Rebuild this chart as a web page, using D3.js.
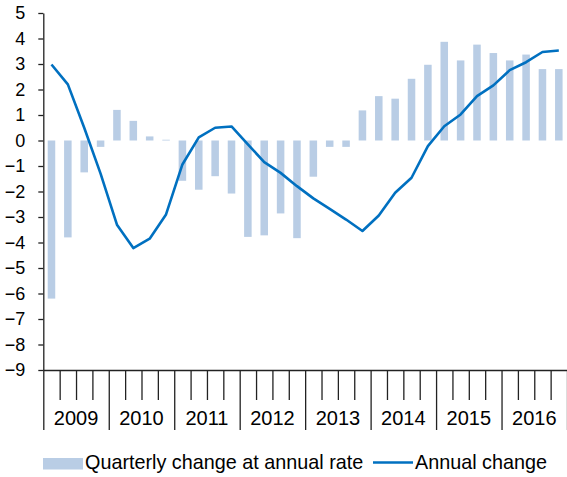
<!DOCTYPE html>
<html>
<head>
<meta charset="utf-8">
<script src="https://cdn.jsdelivr.net/npm/d3@7"></script>
<style>
  body { margin: 0; background: #fff; }
  svg { display: block; font-family: "Liberation Sans", Arial, sans-serif; }
</style>
</head>
<body>
<script>
// quarters 2009Q1 .. 2016Q4
var years = ["2009", "2010", "2011", "2012", "2013", "2014", "2015", "2016"];
var quarters = [];
years.forEach(function(y) { [1, 2, 3, 4].forEach(function(q) { quarters.push(y + "Q" + q); }); });

// quarterly change at annual rate (bars)
var quarterlyChange = [
  -6.2, -3.8, -1.25, -0.25,
   1.2,  0.77, 0.16, 0.03,
  -1.58, -1.93, -1.4, -2.08,
  -3.78, -3.72, -2.86, -3.83,
  -1.42, -0.25, -0.25, 1.18,
   1.74,  1.64, 2.42, 2.97,
   3.87,  3.14, 3.76, 3.43,
   3.14,  3.37, 2.8, 2.8
];

// annual change (line)
var annualChange = [
   2.98, 2.2, 0.5, -1.3,
  -3.3, -4.22, -3.85, -2.9,
  -0.94, 0.12, 0.5, 0.55,
  -0.15, -0.85, -1.27, -1.79,
  -2.27, -2.68, -3.1, -3.55,
  -2.94, -2.05, -1.46, -0.22,
   0.56, 1.02, 1.74, 2.16,
   2.76, 3.07, 3.47, 3.53
];

var yTicks = d3.range(-9, 6);

var width = 567, height = 477;
var plotLeft = 43.3, plotRight = 567, plotTop = 13, plotBottom = 370;

var svg = d3.select("body").append("svg")
    .attr("width", width)
    .attr("height", height);

var x = d3.scaleBand()
    .domain(quarters)
    .range([plotLeft, plotRight])
    .paddingInner(0.54)
    .paddingOuter(0.27);

var xq = d3.scaleLinear().domain([0, quarters.length]).range([plotLeft, plotRight]);

var xYear = d3.scaleBand().domain(years).range([plotLeft, plotRight]);

var y = d3.scaleLinear().domain([-9, 5]).range([plotBottom, plotTop]);

// bars
svg.append("g").selectAll("rect")
    .data(quarterlyChange)
  .enter().append("rect")
    .attr("x", function(d, i) { return x(quarters[i]); })
    .attr("width", x.bandwidth())
    .attr("y", function(d) { return y(Math.max(0, d)); })
    .attr("height", function(d) { return Math.abs(y(d) - y(0)); })
    .attr("fill", "#b9cde5");

// y axis
var yAxis = svg.append("g")
    .attr("transform", "translate(" + plotLeft + ",0)")
    .call(d3.axisLeft(y).tickValues(yTicks).tickSize(5).tickSizeOuter(0).tickPadding(13));
yAxis.selectAll("text").attr("font-size", 18).attr("fill", "#000").attr("font-family", null);
yAxis.selectAll("line, path").attr("stroke", "#222").attr("stroke-width", 1.3);

// x axis: quarter ticks, long at year boundaries
var xAxis = svg.append("g")
    .attr("transform", "translate(0," + plotBottom + ")")
    .call(d3.axisBottom(xq).tickValues(d3.range(0, quarters.length + 1)).tickSize(30).tickSizeOuter(0).tickFormat(""));
xAxis.selectAll(".tick line")
    .attr("y2", function(d) { return d % 4 === 0 ? 60 : 30; });
xAxis.selectAll("line, path").attr("stroke", "#222").attr("stroke-width", 1.3);

// year labels
var yearAxis = svg.append("g")
    .attr("transform", "translate(0," + plotBottom + ")")
    .call(d3.axisBottom(xYear).tickSize(0).tickPadding(41));
yearAxis.select(".domain").remove();
yearAxis.selectAll("text").attr("font-size", 20).attr("fill", "#000").attr("font-family", null);

// annual change line
var line = d3.line()
    .x(function(d, i) { return x(quarters[i]) + x.bandwidth() / 2; })
    .y(function(d) { return y(d); });

svg.append("path")
    .datum(annualChange)
    .attr("d", line)
    .attr("fill", "none")
    .attr("stroke", "#0070c0")
    .attr("stroke-width", 2.6)
    .attr("stroke-linejoin", "round");

// legend
var legend = svg.append("g");
legend.append("rect")
    .attr("x", 43).attr("y", 458).attr("width", 40).attr("height", 11.5)
    .attr("fill", "#b9cde5");
legend.append("text")
    .attr("x", 85).attr("y", 469)
    .attr("font-size", 19.8)
    .text("Quarterly change at annual rate");
legend.append("line")
    .attr("x1", 373).attr("x2", 413).attr("y1", 462.5).attr("y2", 462.5)
    .attr("stroke", "#0070c0").attr("stroke-width", 2.6);
legend.append("text")
    .attr("x", 415).attr("y", 469)
    .attr("font-size", 19.8)
    .text("Annual change");
</script>
</body>
</html>
